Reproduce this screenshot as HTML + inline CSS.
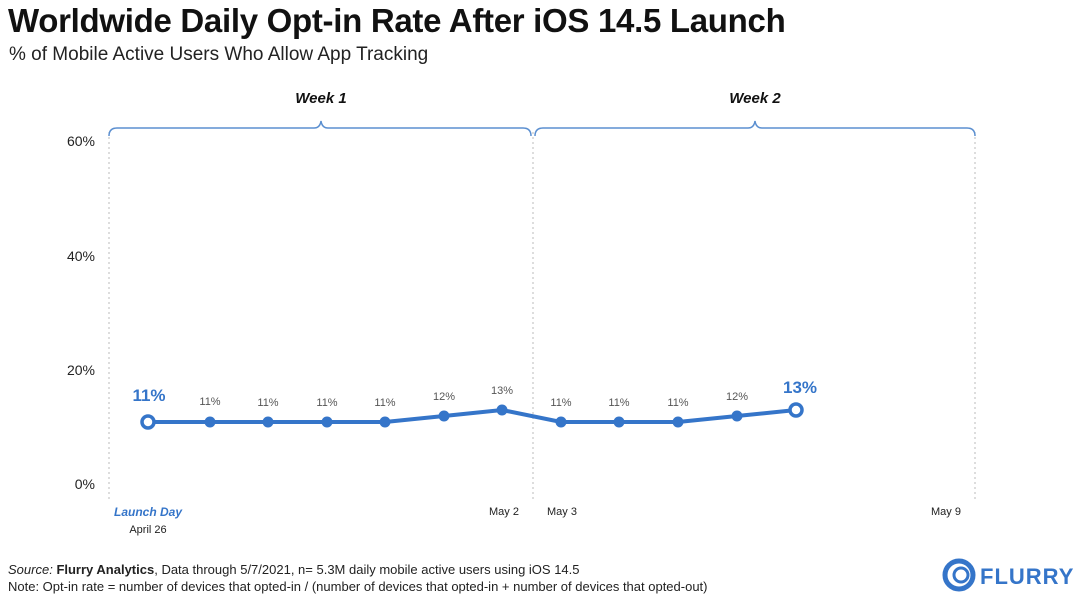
<!DOCTYPE html>
<html><head><style>
body{margin:0;width:1080px;height:598px;background:#fff;font-family:"Liberation Sans",sans-serif;overflow:hidden;position:relative}
.t{position:absolute;white-space:nowrap}
</style></head><body>
<div class="t" style="left:8px;top:2px;font-size:33px;font-weight:bold;letter-spacing:-0.3px;color:#111">Worldwide Daily Opt-in Rate After iOS 14.5 Launch</div>
<div class="t" style="left:9px;top:44px;font-size:19px;color:#222">% of Mobile Active Users Who Allow App Tracking</div>
<svg width="1080" height="598" style="position:absolute;left:0;top:0" font-family="Liberation Sans, sans-serif">
<g stroke="#bbb" stroke-dasharray="2,3" stroke-width="1">
<line x1="109" y1="132" x2="109" y2="500"/><line x1="533" y1="132" x2="533" y2="500"/><line x1="975" y1="132" x2="975" y2="500"/>
</g>
<g fill="none" stroke="#5b8fd0" stroke-width="1.5">
<path d="M109,136 Q109,128 117,128 L314,128 Q320,128 321,121 Q322,128 328,128 L523,128 Q531,128 531,136"/>
<path d="M535,136 Q535,128 543,128 L748,128 Q754,128 755,121 Q756,128 762,128 L967,128 Q975,128 975,136"/>
</g>
<text x="321" y="103" font-size="15" font-weight="bold" font-style="italic" text-anchor="middle" fill="#111">Week 1</text>
<text x="755" y="103" font-size="15" font-weight="bold" font-style="italic" text-anchor="middle" fill="#111">Week 2</text>
<g font-size="14" fill="#222" text-anchor="end">
<text x="95" y="146">60%</text><text x="95" y="261">40%</text><text x="95" y="375">20%</text><text x="95" y="489">0%</text>
</g>
<polyline fill="none" stroke="#3575c9" stroke-width="4" points="148,422 210,422 268,422 327,422 385,422 444,416 502,410 561,422 619,422 678,422 737,416 796,410"/>
<g fill="#3575c9">
<circle cx="210" cy="422" r="5.5"/><circle cx="268" cy="422" r="5.5"/><circle cx="327" cy="422" r="5.5"/><circle cx="385" cy="422" r="5.5"/><circle cx="444" cy="416" r="5.5"/><circle cx="502" cy="410" r="5.5"/><circle cx="561" cy="422" r="5.5"/><circle cx="619" cy="422" r="5.5"/><circle cx="678" cy="422" r="5.5"/><circle cx="737" cy="416" r="5.5"/>
</g>
<circle cx="148" cy="422" r="6" fill="#fff" stroke="#3575c9" stroke-width="3.5"/>
<circle cx="796" cy="410" r="6" fill="#fff" stroke="#3575c9" stroke-width="3.5"/>
<g font-size="11" fill="#555" text-anchor="middle">
<text x="210" y="405">11%</text><text x="268" y="406">11%</text><text x="327" y="406">11%</text><text x="385" y="406">11%</text><text x="444" y="400">12%</text><text x="502" y="394">13%</text><text x="561" y="406">11%</text><text x="619" y="406">11%</text><text x="678" y="406">11%</text><text x="737" y="400">12%</text>
</g>
<text x="149" y="401" font-size="17" font-weight="bold" fill="#3575c9" text-anchor="middle">11%</text>
<text x="800" y="393" font-size="17" font-weight="bold" fill="#3575c9" text-anchor="middle">13%</text>
<text x="148" y="516" font-size="12" font-weight="bold" font-style="italic" fill="#3575c9" text-anchor="middle">Launch Day</text>
<g font-size="11" fill="#222" text-anchor="middle">
<text x="148" y="533">April 26</text><text x="504" y="515">May 2</text><text x="562" y="515">May 3</text><text x="946" y="515">May 9</text>
</g>
<g font-size="13" fill="#222">
<text x="8" y="574"><tspan font-style="italic">Source:</tspan> <tspan font-weight="bold">Flurry Analytics</tspan>, Data through 5/7/2021, n= 5.3M daily mobile active users using iOS 14.5</text>
<text x="8" y="591">Note: Opt-in rate = number of devices that opted-in / (number of devices that opted-in + number of devices that opted-out)</text>
</g>
<g fill="none" stroke="#3575c9">
<circle cx="959" cy="575" r="14" stroke-width="5"/>
<circle cx="961" cy="575" r="7" stroke-width="3"/>
</g>
<text x="980" y="584" font-size="22" font-weight="bold" fill="#3575c9" letter-spacing="1">FLURRY</text>
</svg>
</body></html>
